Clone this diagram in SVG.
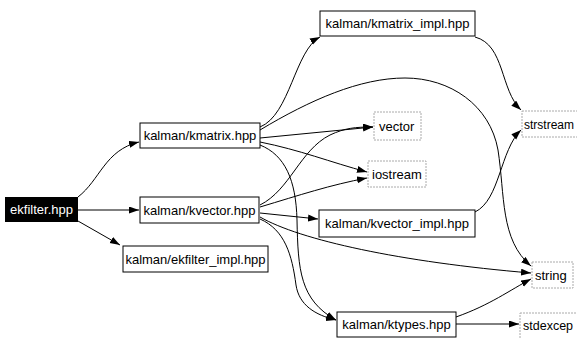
<svg xmlns="http://www.w3.org/2000/svg" width="577" height="338" viewBox="0 0 577 338">
<style>
.n rect{fill:#fff;stroke:#000;stroke-width:1}
.u rect{fill:#fff;stroke:#aaa;stroke-width:1;stroke-dasharray:2,1}
text{font-family:"Liberation Sans",Arial,sans-serif;font-size:13px;fill:#000;text-anchor:middle}
.u text{text-anchor:start}
#connectors path{fill:none;stroke:#000;stroke-width:1;marker-end:url(#ah)}
</style>
<defs>
<marker id="ah" markerUnits="userSpaceOnUse" markerWidth="11" markerHeight="8" refX="10" refY="3.5" orient="auto">
<path d="M0,0 L10,3.5 L0,7 z" fill="#000"/>
</marker>
</defs>
<rect width="577" height="338" fill="#fff"/>
<g id="connectors">
<path d="M78,197 C100,180 105,150 139,142"/>
<path d="M78,210 L139,210"/>
<path d="M78,221 L120,245"/>
<path d="M260,127 C290,115 295,50 320,37"/>
<path d="M260,130 C310,100 360,78 405,78 C450,78 490,105 498,150 C505,195 500,240 531,266"/>
<path d="M260,138 L373,127"/>
<path d="M260,142 C300,150 330,162 367,172"/>
<path d="M260,145 C285,155 296,180 297,220 C298,270 300,300 336,320"/>
<path d="M260,205 C290,190 300,150 330,135 C345,128 355,127 373,127"/>
<path d="M260,207 C300,195 330,185 367,178"/>
<path d="M260,213 L318,219"/>
<path d="M260,217 C300,240 400,262 531,273"/>
<path d="M260,219 C285,230 292,255 296,285 C299,305 315,315 336,320"/>
<path d="M475,37 C505,45 500,90 521,110"/>
<path d="M475,212 C500,200 500,150 521,130"/>
<path d="M456,317 C490,305 510,290 531,279"/>
<path d="M456,324 L519,324"/>
</g>
<g id="ekfilter"><rect x="5" y="197" width="73" height="25" fill="#000"/><text x="41.5" y="214" style="fill:#fff">ekfilter.hpp</text></g>
<g id="kmatrix" class="n"><rect x="140" y="123" width="120" height="25"/><text x="200" y="140">kalman/kmatrix.hpp</text></g>
<g id="kvector" class="n"><rect x="140" y="197" width="119" height="26"/><text x="199.5" y="214.5">kalman/kvector.hpp</text></g>
<g id="ekfilter_impl" class="n"><rect x="123" y="246" width="145" height="26"/><text x="195.5" y="263.5">kalman/ekfilter_impl.hpp</text></g>
<g id="kmatrix_impl" class="n"><rect x="320" y="11" width="155" height="25"/><text x="397.5" y="28">kalman/kmatrix_impl.hpp</text></g>
<g id="kvector_impl" class="n"><rect x="319" y="210" width="156" height="27"/><text x="397" y="228">kalman/kvector_impl.hpp</text></g>
<g id="ktypes" class="n"><rect x="337" y="312" width="119" height="25"/><text x="396.5" y="329">kalman/ktypes.hpp</text></g>
<g id="vector" class="u"><rect x="374" y="112" width="47" height="28"/><text x="379" y="131">vector</text></g>
<g id="iostream" class="u"><rect x="368" y="161" width="58" height="26"/><text x="372" y="179">iostream</text></g>
<g id="strstream" class="u"><rect x="522" y="111" width="60" height="26"/><text x="524" y="129" style="font-size:12px">strstream</text></g>
<g id="string" class="u"><rect x="532" y="262" width="41" height="26"/><text x="535" y="280">string</text></g>
<g id="stdexcep" class="u"><rect x="520" y="313" width="62" height="30"/><text x="523" y="330" style="font-size:12.5px">stdexcep</text></g>
</svg>
